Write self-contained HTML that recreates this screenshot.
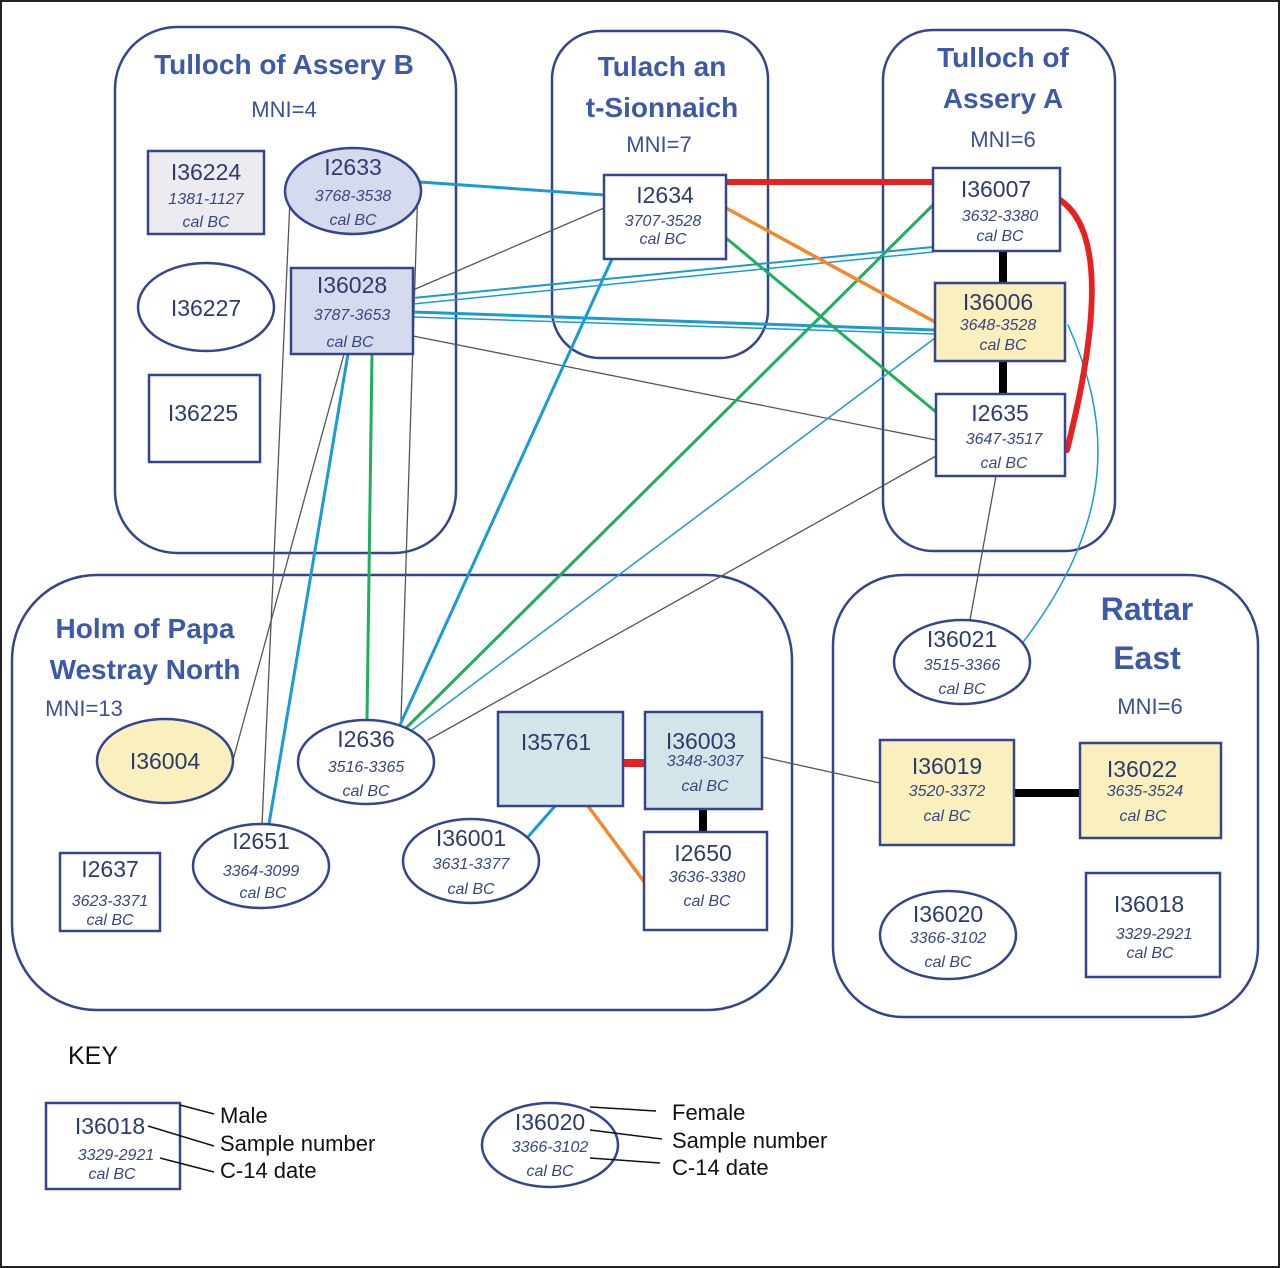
<!DOCTYPE html>
<html><head><meta charset="utf-8"><style>
body{margin:0;background:#fff}
svg{display:block}
text{font-family:"Liberation Sans",sans-serif}
.id{font-size:23px;fill:#2e3a6e;text-anchor:middle}
.d{font-size:16px;fill:#3a4680;font-style:italic;text-anchor:middle}
.t{font-size:28px;font-weight:bold;fill:#3d5aa8;text-anchor:middle}
.m{font-size:22px;fill:#3d4f99;text-anchor:middle}
.b{fill:none;stroke:#36448f;stroke-width:2.5}
.n{stroke:#36448f;stroke-width:2.5}
.k{font-size:22px;fill:#111}
</style></head><body>
<svg width="1280" height="1268" viewBox="0 0 1280 1268">
<rect x="1" y="1" width="1278" height="1266" fill="#fff" stroke="#222" stroke-width="2"/>
<!-- groups -->
<rect class="b" x="115" y="27" width="341" height="526" rx="62"/>
<rect class="b" x="552" y="31" width="216" height="327" rx="48"/>
<rect class="b" x="883" y="30" width="232" height="521" rx="50"/>
<rect class="b" x="12" y="575" width="780" height="435" rx="85"/>
<rect class="b" x="833" y="575" width="425" height="442" rx="70"/>
<text class="t" x="284" y="74">Tulloch of  Assery B</text>
<text class="m" x="284" y="117">MNI=4</text>
<text class="t" x="662" y="76">Tulach an</text>
<text class="t" x="662" y="117">t-Sionnaich</text>
<text class="m" x="659" y="152">MNI=7</text>
<text class="t" x="1003" y="67">Tulloch of</text>
<text class="t" x="1003" y="108">Assery A</text>
<text class="m" x="1003" y="147">MNI=6</text>
<text class="t" x="145" y="638">Holm of Papa</text>
<text class="t" x="145" y="679">Westray North</text>
<text class="m" x="84" y="716">MNI=13</text>
<text class="t" x="1147" y="620" style="font-size:32px">Rattar</text>
<text class="t" x="1147" y="669" style="font-size:32px">East</text>
<text class="m" x="1150" y="714">MNI=6</text>
<!-- connectors -->
<g fill="none" stroke-linecap="round">
<line x1="604" y1="208" x2="413" y2="290" stroke="#555" stroke-width="1.3"/>
<line x1="413" y1="336" x2="936" y2="440" stroke="#555" stroke-width="1.3"/>
<line x1="936" y1="456" x2="428" y2="740" stroke="#555" stroke-width="1.3"/>
<line x1="996" y1="476" x2="970" y2="620" stroke="#555" stroke-width="1.3"/>
<line x1="762" y1="757" x2="880" y2="783" stroke="#555" stroke-width="1.3"/>
<line x1="418" y1="185" x2="401" y2="720" stroke="#555" stroke-width="1.3"/>
<line x1="290" y1="200" x2="262" y2="825" stroke="#555" stroke-width="1.3"/>
<line x1="344" y1="354" x2="233" y2="760" stroke="#555" stroke-width="1.3"/>
<line x1="420" y1="182" x2="604" y2="195" stroke="#1a9ad6" stroke-width="3"/>
<line x1="413" y1="298" x2="933" y2="247" stroke="#1a9ad6" stroke-width="2"/>
<line x1="413" y1="304" x2="933" y2="252" stroke="#1a9ad6" stroke-width="1.5"/>
<line x1="413" y1="312" x2="935" y2="330" stroke="#1a9ad6" stroke-width="3"/>
<line x1="413" y1="317" x2="935" y2="334" stroke="#1a9ad6" stroke-width="1.5"/>
<line x1="348" y1="354" x2="268" y2="830" stroke="#1a9ad6" stroke-width="3"/>
<line x1="612" y1="259" x2="400" y2="725" stroke="#1a9ad6" stroke-width="3"/>
<line x1="412" y1="730" x2="935" y2="338" stroke="#1a9ad6" stroke-width="1.5"/>
<path d="M1068 325 C1110 420 1120 520 1017 650" stroke="#1a9ad6" stroke-width="1.5"/>
<line x1="527" y1="838" x2="555" y2="806" stroke="#1a9ad6" stroke-width="3"/>
<line x1="726" y1="238" x2="936" y2="412" stroke="#1fae5a" stroke-width="3"/>
<line x1="933" y1="205" x2="404" y2="730" stroke="#1fae5a" stroke-width="3"/>
<line x1="372" y1="354" x2="367" y2="720" stroke="#1fae5a" stroke-width="3"/>
<line x1="726" y1="208" x2="935" y2="322" stroke="#f28a2c" stroke-width="3.5"/>
<line x1="588" y1="806" x2="645" y2="883" stroke="#f28a2c" stroke-width="3.5"/>
<line x1="726" y1="182" x2="933" y2="182" stroke="#e82020" stroke-width="6"/>
<path d="M1060 200 Q1120 240 1067 450" stroke="#e82020" stroke-width="6"/>
<line x1="623" y1="763" x2="645" y2="763" stroke="#e82020" stroke-width="8"/>
<line x1="1003" y1="251" x2="1003" y2="283" stroke="#000" stroke-width="8"/>
<line x1="1003" y1="361" x2="1003" y2="394" stroke="#000" stroke-width="8"/>
<line x1="1014" y1="793" x2="1080" y2="793" stroke="#000" stroke-width="8"/>
<line x1="703" y1="809" x2="703" y2="832" stroke="#000" stroke-width="8"/>
</g>
<!-- nodes -->
<rect class="n" x="148" y="151" width="116" height="83" fill="#ececf0"/>
<text class="id" x="206" y="180">I36224</text><text class="d" x="206" y="204">1381-1127</text><text class="d" x="206" y="227">cal BC</text>
<ellipse class="n" cx="353" cy="191" rx="68" ry="43" fill="#d5daee"/>
<text class="id" x="353" y="175">I2633</text><text class="d" x="353" y="201">3768-3538</text><text class="d" x="353" y="225">cal BC</text>
<ellipse class="n" cx="206" cy="307" rx="68" ry="44" fill="#fff"/>
<text class="id" x="206" y="316">I36227</text>
<rect class="n" x="291" y="268" width="122" height="86" fill="#d5daee"/>
<text class="id" x="352" y="293">I36028</text><text class="d" x="352" y="320">3787-3653</text><text class="d" x="350" y="347">cal BC</text>
<rect class="n" x="149" y="375" width="111" height="87" fill="#fff"/>
<text class="id" x="203" y="421">I36225</text>
<rect class="n" x="604" y="175" width="122" height="84" fill="#fff" stroke-width="3"/>
<text class="id" x="665" y="203">I2634</text><text class="d" x="663" y="226">3707-3528</text><text class="d" x="663" y="244">cal BC</text>
<rect class="n" x="933" y="168" width="127" height="83" fill="#fff"/>
<text class="id" x="996" y="197">I36007</text><text class="d" x="1000" y="221">3632-3380</text><text class="d" x="1000" y="241">cal BC</text>
<rect class="n" x="935" y="283" width="130" height="78" fill="#f9f0bd"/>
<text class="id" x="998" y="310">I36006</text><text class="d" x="998" y="330">3648-3528</text><text class="d" x="1003" y="350">cal BC</text>
<rect class="n" x="936" y="394" width="129" height="82" fill="#fff"/>
<text class="id" x="1000" y="421">I2635</text><text class="d" x="1004" y="444">3647-3517</text><text class="d" x="1004" y="468">cal BC</text>
<ellipse class="n" cx="165" cy="761" rx="68" ry="42" fill="#f9f0bd"/>
<text class="id" x="165" y="769">I36004</text>
<ellipse class="n" cx="366" cy="762" rx="68" ry="42" fill="#fff"/>
<text class="id" x="366" y="747">I2636</text><text class="d" x="366" y="772">3516-3365</text><text class="d" x="366" y="796">cal BC</text>
<ellipse class="n" cx="261" cy="866" rx="68" ry="42" fill="#fff"/>
<text class="id" x="261" y="849">I2651</text><text class="d" x="261" y="876">3364-3099</text><text class="d" x="263" y="898">cal BC</text>
<rect class="n" x="60" y="853" width="100" height="78" fill="#fff"/>
<text class="id" x="110" y="877">I2637</text><text class="d" x="110" y="906">3623-3371</text><text class="d" x="110" y="925">cal BC</text>
<rect class="n" x="498" y="712" width="125" height="94" fill="#d2e6ea" stroke-width="3"/>
<text class="id" x="556" y="750">I35761</text>
<rect class="n" x="645" y="712" width="117" height="97" fill="#d2e6ea" stroke-width="3"/>
<text class="id" x="701" y="749">I36003</text><text class="d" x="705" y="766">3348-3037</text><text class="d" x="705" y="791">cal BC</text>
<ellipse class="n" cx="471" cy="861" rx="68" ry="42" fill="#fff"/>
<text class="id" x="471" y="846">I36001</text><text class="d" x="471" y="869">3631-3377</text><text class="d" x="471" y="894">cal BC</text>
<rect class="n" x="644" y="832" width="123" height="98" fill="#fff" stroke-width="3"/>
<text class="id" x="703" y="861">I2650</text><text class="d" x="707" y="882">3636-3380</text><text class="d" x="707" y="906">cal BC</text>
<ellipse class="n" cx="962" cy="662" rx="68" ry="42" fill="#fff"/>
<text class="id" x="962" y="647">I36021</text><text class="d" x="962" y="670">3515-3366</text><text class="d" x="962" y="694">cal BC</text>
<rect class="n" x="880" y="740" width="134" height="105" fill="#f9f0bd" stroke-width="3"/>
<text class="id" x="947" y="774">I36019</text><text class="d" x="947" y="796">3520-3372</text><text class="d" x="947" y="821">cal BC</text>
<rect class="n" x="1080" y="743" width="141" height="95" fill="#f9f0bd" stroke-width="3"/>
<text class="id" x="1142" y="777">I36022</text><text class="d" x="1145" y="796">3635-3524</text><text class="d" x="1143" y="821">cal BC</text>
<ellipse class="n" cx="948" cy="935" rx="68" ry="44" fill="#fff"/>
<text class="id" x="948" y="922">I36020</text><text class="d" x="948" y="943">3366-3102</text><text class="d" x="948" y="967">cal BC</text>
<rect class="n" x="1086" y="873" width="134" height="104" fill="#fff" stroke-width="3"/>
<text class="id" x="1149" y="912">I36018</text><text class="d" x="1154" y="939">3329-2921</text><text class="d" x="1150" y="958">cal BC</text>
<!-- key -->
<text class="k" x="68" y="1064" style="font-size:25px">KEY</text>
<rect class="n" x="46" y="1103" width="134" height="86" fill="#fff" stroke-width="3"/>
<text class="id" x="110" y="1134">I36018</text><text class="d" x="116" y="1160">3329-2921</text><text class="d" x="112" y="1179">cal BC</text>
<ellipse class="n" cx="550" cy="1145" rx="68" ry="42" fill="#fff"/>
<text class="id" x="550" y="1130">I36020</text><text class="d" x="550" y="1152">3366-3102</text><text class="d" x="550" y="1176">cal BC</text>
<g stroke="#111" stroke-width="1.5">
<line x1="180" y1="1105" x2="214" y2="1114"/>
<line x1="148" y1="1126" x2="214" y2="1146"/>
<line x1="160" y1="1158" x2="214" y2="1172"/>
<line x1="590" y1="1107" x2="656" y2="1111"/>
<line x1="590" y1="1130" x2="662" y2="1139"/>
<line x1="590" y1="1158" x2="660" y2="1163"/>
</g>
<text class="k" x="220" y="1123">Male</text>
<text class="k" x="220" y="1151">Sample number</text>
<text class="k" x="220" y="1178">C-14 date</text>
<text class="k" x="672" y="1120">Female</text>
<text class="k" x="672" y="1148">Sample number</text>
<text class="k" x="672" y="1175">C-14 date</text>
</svg>
</body></html>
